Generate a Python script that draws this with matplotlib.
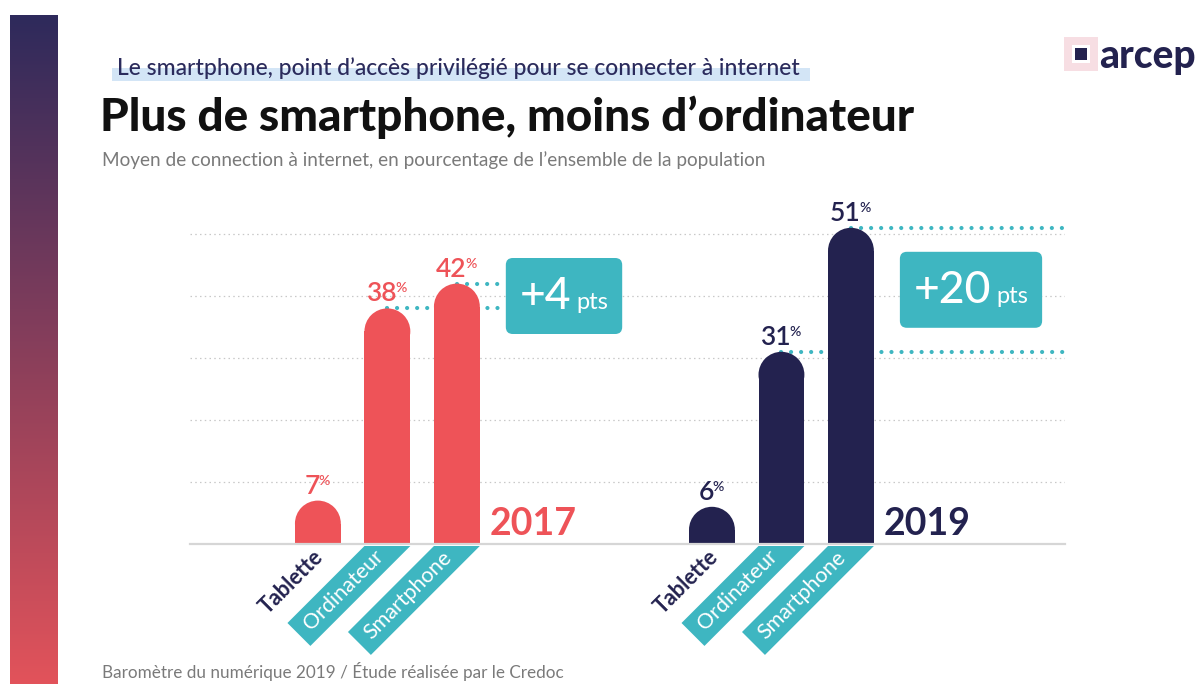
import matplotlib
matplotlib.use("Agg")
import matplotlib.pyplot as plt
import numpy as np
from matplotlib.patches import Ellipse, FancyBboxPatch, Polygon, Rectangle

# data
categories = ["Tablette", "Ordinateur", "Smartphone"]
years = ["2017", "2019"]
values_2017 = [7, 38, 42]
values_2019 = [6, 31, 51]
gains = ["+4", "+20"]
grid_levels = [10, 20, 30, 40, 50]

RED = "#EE5358"
NAVY = "#23224F"
TEAL = "#3EB6C1"
GREY = "#7A7A7A"
FONT = "Lato"

W, H = 1197, 684
fig = plt.figure(figsize=(W / 100, H / 100), dpi=100)
fig.patch.set_facecolor("white")

# chart axes: y in percent, x in bar slots
ax = fig.add_axes([190 / W, (H - 544) / H, 875 / W, 372 / H])
ax.set_xlim(0, 875 / 69.5)
ax.set_ylim(0, 60)
ax.axis("off")

# overlay in pixel coordinates (y downward) for decorations
pix = fig.add_axes([0, 0, 1, 1], zorder=5)
pix.axis("off")

renderer = fig.canvas.get_renderer()


def to_pix(x, y):
    d = ax.transData.transform((x, y))
    return pix.transData.inverted().transform(d)


def from_pix(px, py):
    d = pix.transData.transform((px, py))
    return ax.transData.inverted().transform(d)


def twidth(t):
    return t.get_window_extent(renderer=renderer).width


# left gradient strip
top_c = np.array([46, 42, 92]) / 255
bot_c = np.array([226, 83, 90]) / 255
k = np.linspace(0, 1, 256)[:, None]
grad = (top_c * (1 - k) + bot_c * k)[:, None, :]
pix.imshow(grad, extent=(10, 58, 684, 15), aspect="auto", interpolation="bilinear")
pix.set_xlim(0, W)
pix.set_ylim(H, 0)

# header
pix.add_patch(Rectangle((112, 68), 698, 13, color="#D3E5F6", lw=0, zorder=1))
pix.text(117, 75, "Le smartphone, point d\u2019acc\u00e8s privil\u00e9gi\u00e9 pour se connecter \u00e0 internet",
         fontsize=16.5, color="#2B2B5C", family=FONT, fontweight="medium",
         va="baseline", zorder=2)
pix.text(100, 131, "Plus de smartphone, moins d\u2019ordinateur", fontsize=33, fontweight="black",
         color="#111111", family=FONT, va="baseline")
pix.text(102, 166, "Moyen de connection \u00e0 internet, en pourcentage de l\u2019ensemble de la population",
         fontsize=13.7, color=GREY, family=FONT, va="baseline")
pix.text(102, 678, "Barom\u00e8tre du num\u00e9rique 2019 / \u00c9tude r\u00e9alis\u00e9e par le Credoc",
         fontsize=12.3, color=GREY, family=FONT, va="baseline")

# logo
pix.add_patch(Rectangle((1064, 37), 34, 34, color="#F2C4CC", alpha=0.55, lw=0))
pix.add_patch(Rectangle((1072, 45), 18, 18, color="white", lw=0))
pix.add_patch(Rectangle((1075, 48), 12, 12, color=NAVY, lw=0))
pix.text(1099, 68, "arcep", fontsize=28, fontweight="black", color=NAVY, family=FONT, va="baseline")

# grid and baseline
ax.hlines(grid_levels, 0, ax.get_xlim()[1], colors="#C8C8C8", lw=0.9,
          linestyles=(0, (1.2, 2.6)), zorder=1)
ax.axhline(0, color="#D6D6D6", lw=1.6, zorder=4, clip_on=False)

# bars with rounded tops
group_start = [1.84, 7.51]
bar_w = 0.66
sx = ax.transData.transform((1, 0))[0] - ax.transData.transform((0, 0))[0]
sy = ax.transData.transform((0, 1))[1] - ax.transData.transform((0, 0))[1]
cap_h = bar_w * sx / sy
bw_px = bar_w * sx
band_len = {"Ordinateur": 77, "Smartphone": 86}

for g, (year, vals, col) in enumerate(zip(years, [values_2017, values_2019], [RED, NAVY])):
    xs = group_start[g] + np.arange(len(categories))
    vals = np.array(vals)
    ax.bar(xs, vals - cap_h / 2, width=bar_w, color=col, zorder=3)
    for x, v in zip(xs, vals):
        ax.add_patch(Ellipse((x, v - cap_h / 2), bar_w, cap_h, color=col, lw=0, zorder=3))

    # value labels
    for x, v in zip(xs, vals):
        cx, top = to_pix(x, v)
        t1 = pix.text(0, top - 7, str(v), fontsize=19, color=col, family=FONT,
                      fontweight="semibold", va="baseline")
        t2 = pix.text(0, top - 16, "%", fontsize=10, color=col, family=FONT,
                      fontweight="semibold", va="baseline")
        w1, w2 = twidth(t1), twidth(t2)
        x0 = cx - (w1 + w2) / 2
        t1.set_x(x0)
        t2.set_x(x0 + w1 - 1.5)

    # year label
    rx, by = to_pix(xs[-1] + bar_w / 2, 0)
    pix.text(rx + 10, by - 9, year, fontsize=27, fontweight="bold", color=col,
             family=FONT, va="baseline")

    # category labels below the axis
    for x, cat in zip(xs, categories):
        cx, y0 = to_pix(x, 0)
        y0 += 2
        if cat in band_len:
            a = band_len[cat]
            xl, xr = cx - bw_px / 2, cx + bw_px / 2
            b = a + bw_px / 2
            pts = [(xl, y0), (xr, y0), (xr - b, y0 + b), (xl - a, y0 + a)]
            pix.add_patch(Polygon(pts, closed=True, color=TEAL, lw=0))
            mx = np.mean([p[0] for p in pts])
            my = np.mean([p[1] for p in pts])
            pix.text(mx, my, cat, rotation=45, rotation_mode="anchor", ha="center",
                     va="center", fontsize=15.5, color="white", family=FONT)
        else:
            pix.text(cx - 26, y0 + 36, cat, rotation=45, rotation_mode="anchor",
                     ha="center", va="center", fontsize=15.5, color=NAVY,
                     family=FONT, fontweight="bold")

    # gain box
    lo, hi = vals[1], vals[2]
    bx = rx + 26
    cy = (to_pix(0, lo)[1] + to_pix(0, hi)[1]) / 2
    tg = pix.text(0, cy + 13, gains[g], fontsize=32, color="white", family=FONT,
                  fontweight="medium", va="baseline", zorder=7)
    tp = pix.text(0, cy + 13, "pts", fontsize=17, color="white", family=FONT,
                  va="baseline", zorder=7)
    wg, wp = twidth(tg), twidth(tp)
    gap = 5
    box_w = wg + gap + wp + 28
    box_h = 76
    tg.set_x(bx + 14)
    tp.set_x(bx + 14 + wg + gap)
    pix.add_patch(FancyBboxPatch((bx, cy - box_h / 2), box_w, box_h,
                                 boxstyle="round,pad=0,rounding_size=7",
                                 color=TEAL, lw=0, zorder=6))

    # dotted teal guide lines
    box_top, box_bot = cy - box_h / 2, cy + box_h / 2
    for x, v in [(xs[1], lo), (xs[2], hi)]:
        vy = to_pix(0, v)[1]
        if box_top <= vy <= box_bot:
            x_end = from_pix(bx - 3, 0)[0]
        else:
            x_end = ax.get_xlim()[1]
        ax.plot([x, x_end], [v, v], color=TEAL, lw=3, dashes=(0.01, 2.4),
                dash_capstyle="round", zorder=2)

fig.savefig("out.png", dpi=100, facecolor="white")
